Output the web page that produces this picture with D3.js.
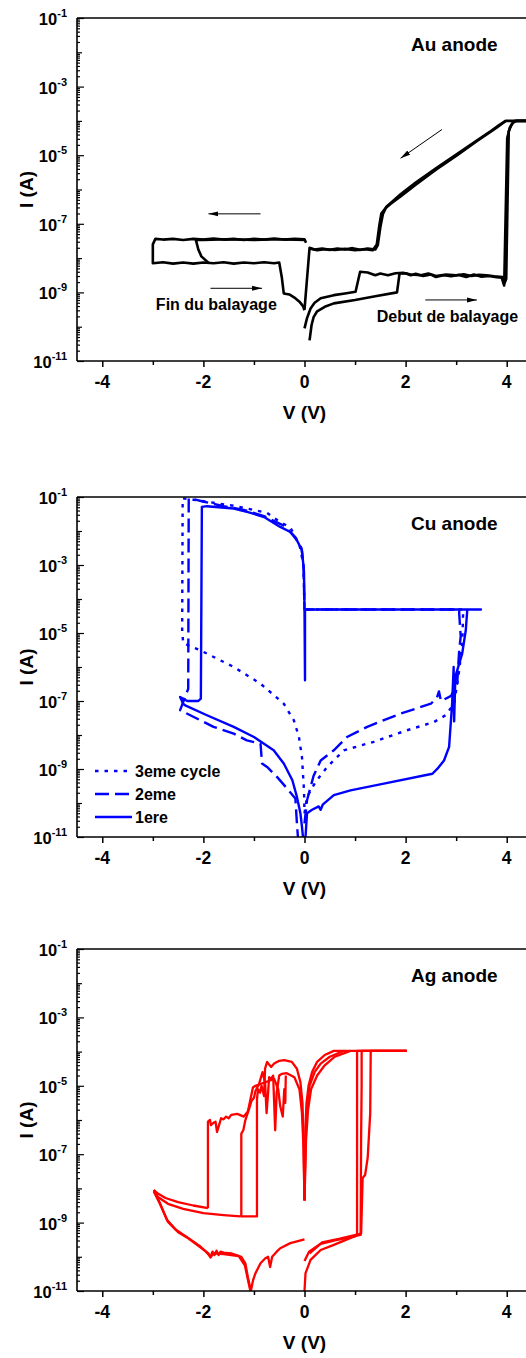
<!DOCTYPE html>
<html>
<head>
<meta charset="utf-8">
<script src="https://cdn.jsdelivr.net/npm/d3@7"></script>
<style>
  body { margin: 0; background: #fff; }
  text { font-family: Arial, "Liberation Sans", sans-serif; font-weight: bold; fill: #000; }
</style>
</head>
<body>
<svg id="chart" width="526" height="1358"></svg>
<script>
// values are [V (volts), log10 of I (A)]
var xTicks = [-4, -2, 0, 2, 4];
var xMinor = [-3, -1, 1, 3];
var yLabelExp = [-1, -3, -5, -7, -9, -11];

// ---- Au anode (black)
var auFwd1 = [[0.10,-10.40],[0.14,-9.95],[0.18,-9.72],[0.25,-9.55],[0.4,-9.42],[0.58,-9.32],[1.0,-9.22],[1.4,-9.11],[1.83,-9.0],[1.88,-8.45],[2.0,-8.44],[2.1,-8.5],[2.2,-8.46],[2.35,-8.52],[2.5,-8.48],[2.6,-8.55],[2.75,-8.5],[2.9,-8.53],[3.05,-8.49],[3.2,-8.55],[3.35,-8.48],[3.5,-8.54],[3.65,-8.52],[3.8,-8.56],[3.9,-8.57],[3.95,-8.8],[4.01,-4.5],[4.06,-4.2],[4.12,-4.05],[4.2,-4.0],[4.5,-4.0]];
var auFwd2 = [[0.0,-10.05],[0.05,-9.75],[0.12,-9.47],[0.2,-9.3],[0.32,-9.17],[0.58,-9.08],[0.8,-9.03],[1.01,-8.98],[1.1,-8.4],[1.25,-8.42],[1.4,-8.5],[1.5,-8.45],[1.65,-8.5],[1.8,-8.44],[1.95,-8.43],[2.1,-8.48],[2.3,-8.5],[2.45,-8.45],[2.6,-8.52],[2.8,-8.48],[3.0,-8.5],[3.15,-8.47],[3.3,-8.52],[3.45,-8.49],[3.6,-8.5],[3.75,-8.53],[3.92,-8.55],[3.96,-8.72],[3.99,-8.6],[4.04,-4.3],[4.1,-4.1],[4.16,-4.0],[4.5,-4.0]];
var auBack1 = [[4.5,-4.0],[3.98,-4.0],[3.85,-4.12],[3.7,-4.28],[3.4,-4.58],[3.0,-4.98],[2.6,-5.38],[2.2,-5.8],[1.9,-6.14],[1.7,-6.4],[1.62,-6.5],[1.55,-6.72],[1.5,-7.1],[1.45,-7.62],[1.4,-7.75],[1.25,-7.72],[1.1,-7.76],[0.95,-7.71],[0.8,-7.75],[0.65,-7.72],[0.5,-7.76],[0.35,-7.72],[0.2,-7.75],[0.1,-7.7],[0.0,-9.5]];
var auBack2 = [[3.98,-4.0],[3.8,-4.2],[3.4,-4.6],[3.0,-5.02],[2.6,-5.42],[2.2,-5.86],[1.9,-6.2],[1.7,-6.42],[1.6,-6.55],[1.52,-6.7],[1.48,-7.05],[1.43,-7.6],[1.35,-7.77],[1.2,-7.74],[1.0,-7.77],[0.8,-7.73],[0.6,-7.76],[0.4,-7.74],[0.25,-7.77],[0.12,-7.73]];
var auNeg1 = [[0.03,-7.55],[0.0,-7.45],[-0.2,-7.44],[-0.4,-7.46],[-0.6,-7.43],[-0.8,-7.46],[-1.0,-7.44],[-1.2,-7.47],[-1.4,-7.44],[-1.6,-7.46],[-1.8,-7.43],[-2.0,-7.46],[-2.2,-7.44],[-2.4,-7.47],[-2.6,-7.44],[-2.8,-7.46],[-2.95,-7.44],[-3.0,-7.6],[-3.0,-8.15],[-2.8,-8.12],[-2.6,-8.16],[-2.4,-8.13],[-2.2,-8.16],[-2.0,-8.13],[-1.8,-8.15],[-1.6,-8.12],[-1.4,-8.16],[-1.2,-8.13],[-1.0,-8.15],[-0.8,-8.12],[-0.6,-8.15],[-0.5,-8.13],[-0.45,-8.55],[-0.41,-9.03],[-0.3,-9.06],[-0.2,-9.15],[-0.1,-9.27],[-0.03,-9.4],[0.0,-9.52]];
var auNeg2 = [[0.0,-7.47],[-0.5,-7.45],[-1.0,-7.47],[-1.5,-7.45],[-2.0,-7.47],[-2.15,-7.46],[-2.1,-7.75],[-2.04,-7.95],[-1.89,-8.15]];
var auArrows = [[2.72,-4.25,1.9,-5.09],[-0.87,-6.71,-1.9,-6.71],[-1.86,-8.88,-0.84,-8.88],[2.39,-9.22,3.41,-9.22]];

// ---- Cu anode (blue), three cycles
var cu1 = [[0.02,-11.0],[0.05,-10.3],[0.15,-10.2],[0.28,-10.1],[0.32,-10.2],[0.36,-10.05],[0.58,-9.77],[0.91,-9.63],[1.57,-9.43],[2.53,-9.14],[2.63,-8.99],[2.76,-8.75],[2.86,-8.35],[2.92,-7.08],[2.95,-6.0],[2.96,-7.6],[2.98,-6.5],[3.0,-6.2],[3.12,-5.6],[3.19,-4.92],[3.22,-4.31],[3.49,-4.31],[0.01,-4.31],[0.01,-6.39],[0.0,-4.31],[-0.01,-3.2],[-0.05,-2.57],[-0.15,-2.27],[-0.28,-2.03],[-0.48,-1.88],[-0.8,-1.59],[-1.1,-1.45],[-1.4,-1.34],[-1.7,-1.3],[-1.93,-1.27],[-2.03,-1.29],[-2.05,-6.93],[-2.1,-7.0],[-2.32,-7.0],[-2.46,-6.88],[-2.4,-7.08],[-2.36,-7.13],[-1.93,-7.42],[-1.4,-7.76],[-1.0,-8.06],[-0.61,-8.45],[-0.41,-8.84],[-0.24,-9.33],[-0.15,-9.82],[-0.08,-10.31],[-0.05,-10.7],[-0.03,-11.0]];
var cu2 = [[0.0,-10.6],[0.05,-9.92],[0.18,-9.2],[0.32,-8.75],[0.58,-8.45],[0.84,-8.06],[1.24,-7.76],[1.9,-7.37],[2.5,-7.08],[2.62,-6.9],[2.66,-6.72],[2.7,-7.0],[2.9,-6.85],[3.02,-6.49],[3.06,-5.5],[3.09,-5.1],[3.06,-4.43],[3.06,-4.31],[0.0,-4.31],[-0.02,-3.0],[-0.06,-2.5],[-0.2,-2.15],[-0.4,-1.85],[-0.8,-1.56],[-1.2,-1.38],[-1.6,-1.27],[-1.99,-1.14],[-2.2,-1.06],[-2.29,-1.04],[-2.3,-6.64],[-2.46,-7.27],[-2.19,-7.47],[-1.8,-7.76],[-1.4,-7.96],[-1.14,-8.16],[-0.87,-8.25],[-0.84,-8.84],[-0.74,-8.94],[-0.54,-9.24],[-0.34,-9.58],[-0.18,-9.87],[-0.15,-10.6],[-0.13,-11.0]];
var cu3 = [[0.0,-10.3],[0.05,-9.82],[0.22,-9.38],[0.45,-8.94],[0.78,-8.45],[1.37,-8.2],[2.03,-7.86],[2.56,-7.62],[2.79,-7.42],[2.96,-7.08],[3.06,-6.1],[3.12,-5.31],[3.14,-4.31],[0.0,-4.31],[-0.02,-3.0],[-0.1,-2.4],[-0.28,-1.9],[-0.5,-1.72],[-0.74,-1.47],[-1.1,-1.35],[-1.4,-1.26],[-1.8,-1.17],[-2.2,-1.08],[-2.41,-1.04],[-2.42,-4.9],[-2.4,-5.3],[-2.06,-5.51],[-1.4,-6.0],[-0.87,-6.49],[-0.41,-7.08],[-0.21,-7.57],[-0.11,-8.06],[-0.05,-8.65],[-0.01,-9.63],[0.0,-10.3]];
var cuLegend = ['3eme cycle', '2eme', '1ere'];

// ---- Ag anode (red), several cycles
var agPos1 = [[0.0,-11.0],[0.02,-10.48],[0.12,-10.09],[0.32,-9.8],[0.58,-9.65],[1.01,-9.39],[1.11,-9.36],[1.12,-6.5],[1.13,-5.0],[1.13,-3.98],[2.02,-3.98]];
var agPos2 = [[0.0,-10.12],[0.09,-9.85],[0.32,-9.62],[0.6,-9.52],[1.0,-9.4],[1.04,-9.37],[1.04,-3.98],[2.02,-3.98]];
var agPos3 = [[0.1,-9.9],[0.35,-9.58],[0.7,-9.47],[1.12,-9.32],[1.15,-7.7],[1.2,-7.6],[1.25,-7.1],[1.3,-5.8],[1.31,-3.98],[2.02,-3.98]];
var agBack1 = [[2.02,-3.98],[0.58,-3.98],[0.4,-4.1],[0.25,-4.3],[0.15,-4.6],[0.08,-5.0],[0.04,-5.5],[0.02,-6.2],[0.0,-8.35]];
var agBack2 = [[0.78,-3.98],[0.5,-4.15],[0.32,-4.35],[0.2,-4.6],[0.1,-5.0],[0.05,-5.6],[0.02,-6.5],[0.0,-8.35]];
var agBack3 = [[0.91,-3.98],[0.6,-4.15],[0.4,-4.4],[0.25,-4.7],[0.13,-5.1],[0.07,-5.7],[0.03,-6.6],[0.0,-8.35]];
var agNegA = [[0.0,-8.35],[-0.02,-6.5],[-0.04,-5.5],[-0.08,-4.9],[-0.15,-4.5],[-0.25,-4.3],[-0.4,-4.25],[-0.5,-4.27],[-0.6,-4.35],[-0.66,-4.45],[-0.7,-4.38],[-0.74,-4.3],[-0.78,-4.5],[-0.8,-5.3],[-0.85,-5.0],[-0.88,-5.2],[-0.92,-5.1],[-0.94,-5.4],[-0.94,-8.82],[-1.27,-8.82]];
var agNegB = [[0.0,-8.35],[-0.02,-6.8],[-0.05,-5.8],[-0.1,-5.1],[-0.2,-4.75],[-0.35,-4.63],[-0.45,-4.65],[-0.5,-4.7],[-0.55,-5.2],[-0.58,-6.3],[-0.6,-5.5],[-0.62,-4.7],[-0.66,-4.8],[-0.7,-4.75],[-0.72,-5.2],[-0.75,-5.8],[-0.78,-4.9],[-0.83,-4.6],[-0.9,-4.95],[-0.97,-5.15],[-1.0,-5.35],[-1.05,-5.45],[-1.1,-5.7],[-1.17,-6.0],[-1.21,-6.3],[-1.25,-6.4],[-1.25,-8.82]];
var agNegC = [[-0.37,-4.7],[-0.38,-5.5],[-0.4,-5.1],[-0.43,-5.9],[-0.48,-5.6],[-0.52,-5.1],[-0.6,-4.8],[-0.97,-5.0],[-1.02,-5.05],[-1.07,-5.4],[-1.12,-5.75],[-1.2,-5.9],[-1.33,-5.82],[-1.45,-5.85],[-1.5,-5.95],[-1.55,-5.9],[-1.6,-5.98],[-1.65,-5.95],[-1.7,-6.2],[-1.73,-6.35],[-1.76,-6.05],[-1.8,-6.08],[-1.85,-6.15],[-1.87,-6.0],[-1.91,-6.05],[-1.91,-8.58]];
var agLow1 = [[-1.91,-8.58],[-2.2,-8.5],[-2.5,-8.4],[-2.75,-8.28],[-2.9,-8.15],[-2.98,-8.05]];
var agLow2 = [[-1.27,-8.82],[-1.6,-8.78],[-2.0,-8.72],[-2.4,-8.6],[-2.7,-8.45],[-2.9,-8.25],[-2.98,-8.05]];
var agRet1 = [[-2.98,-8.05],[-2.88,-8.36],[-2.72,-8.92],[-2.55,-9.2],[-2.39,-9.36],[-2.2,-9.55],[-2.06,-9.7],[-1.95,-9.85],[-1.86,-10.0],[-1.82,-9.85],[-1.78,-9.95],[-1.74,-9.82],[-1.7,-9.95],[-1.66,-9.85],[-1.6,-9.88],[-1.45,-9.9],[-1.35,-9.95],[-1.25,-10.0],[-1.17,-10.19],[-1.12,-10.6],[-1.06,-11.0],[-1.02,-10.7],[-0.97,-10.48],[-0.87,-10.19],[-0.78,-10.05],[-0.72,-10.0],[-0.68,-10.3],[-0.64,-10.0],[-0.55,-9.85],[-0.48,-9.75],[-0.28,-9.6],[0.0,-9.49]];
var agRet2 = [[-2.98,-8.1],[-2.86,-8.45],[-2.7,-8.98],[-2.5,-9.28],[-2.3,-9.46],[-2.1,-9.68],[-1.9,-9.9],[-1.86,-10.02],[-1.8,-9.9],[-1.6,-9.92],[-1.3,-9.98],[-1.18,-10.25],[-1.1,-10.8],[-1.07,-11.0]];

var svg = d3.select('#chart');
var x = d3.scaleLinear().domain([-4.5, 4.5]).range([77, 532]);

var defs = svg.append('defs');
defs.append('marker')
  .attr('id', 'arrow')
  .attr('markerUnits', 'userSpaceOnUse')
  .attr('markerWidth', 10).attr('markerHeight', 6)
  .attr('refX', 10).attr('refY', 3)
  .attr('orient', 'auto')
  .append('path').attr('d', 'M0,0.5L10,3L0,5.5Z').attr('fill', '#000');

var panels = [
  {top: 18, bottom: 361, title: 'Au anode', color: '#000', width: 2.6,
    series: [{d: auFwd1}, {d: auFwd2}, {d: auBack1}, {d: auBack2}, {d: auNeg1}, {d: auNeg2}]},
  {top: 497, bottom: 837, title: 'Cu anode', color: '#0000ff', width: 2.4,
    series: [{d: cu1}, {d: cu2, dash: '14,6'}, {d: cu3, dash: '3.5,6'}]},
  {top: 949, bottom: 1291, title: 'Ag anode', color: '#ff0000', width: 2.3,
    series: [{d: agPos1}, {d: agPos2}, {d: agPos3}, {d: agBack1}, {d: agBack2}, {d: agBack3},
      {d: agNegA}, {d: agNegB}, {d: agNegC}, {d: agLow1}, {d: agLow2}, {d: agRet1}, {d: agRet2}]}
];

panels.forEach(function (p, i) {
  var y = d3.scaleLog().domain([1e-11, 1e-1]).range([p.bottom, p.top]);
  var g = svg.append('g');
  var left = x.range()[0], right = x.range()[1];

  defs.append('clipPath').attr('id', 'clip' + i)
    .append('rect').attr('x', left).attr('y', p.top)
    .attr('width', right - left).attr('height', p.bottom - p.top);

  var line = d3.line()
    .x(function (d) { return x(d[0]); })
    .y(function (d) { return y(Math.pow(10, d[1])); });

  var plot = g.append('g').attr('clip-path', 'url(#clip' + i + ')');
  p.series.forEach(function (s) {
    plot.append('path')
      .datum(s.d)
      .attr('d', line)
      .attr('fill', 'none')
      .attr('stroke', p.color)
      .attr('stroke-width', p.width)
      .attr('stroke-linejoin', 'round')
      .attr('stroke-dasharray', s.dash || null);
  });

  // y ticks, pointing into the plot
  var decades = d3.range(-11, 0).map(function (e) { return Math.pow(10, e); });
  var minors = [];
  d3.range(-11, -1).forEach(function (e) {
    d3.range(2, 10).forEach(function (k) { minors.push(k * Math.pow(10, e)); });
  });
  var labelled = yLabelExp.map(function (e) { return Math.pow(10, e); });

  function yAxis(values, size) {
    var a = g.append('g').attr('transform', 'translate(' + left + ',0)')
      .call(d3.axisLeft(y).tickValues(values).tickSize(-size).tickSizeOuter(0).tickFormat(''));
    a.select('.domain').remove();
    a.selectAll('line').attr('stroke-width', 1.2);
  }
  yAxis(labelled, 7);
  yAxis(decades.filter(function (v) { return labelled.indexOf(v) < 0; }), 5);
  yAxis(minors, 3);

  // x ticks, pointing out
  function xAxis(values, size) {
    var a = g.append('g').attr('transform', 'translate(0,' + p.bottom + ')')
      .call(d3.axisBottom(x).tickValues(values).tickSize(size).tickSizeOuter(0).tickFormat(''));
    a.select('.domain').remove();
    a.selectAll('line').attr('stroke-width', 1.5);
  }
  xAxis(xTicks, 6);
  xAxis(xMinor, 4);

  // frame
  g.append('line').attr('x1', left).attr('x2', left).attr('y1', p.top).attr('y2', p.bottom)
    .attr('stroke', '#000').attr('stroke-width', 1.6);
  g.append('line').attr('x1', left).attr('x2', right).attr('y1', p.bottom).attr('y2', p.bottom)
    .attr('stroke', '#000').attr('stroke-width', 1.6);
  g.append('line').attr('x1', left).attr('x2', right).attr('y1', p.top).attr('y2', p.top)
    .attr('stroke', '#000').attr('stroke-width', 1.6);

  // tick labels
  yLabelExp.forEach(function (e) {
    var t = g.append('text')
      .attr('x', 67).attr('y', y(Math.pow(10, e)) + 7)
      .attr('text-anchor', 'end').attr('font-size', 16.5);
    t.append('tspan').text('10');
    t.append('tspan').attr('dy', -8).attr('font-size', 11).text(e);
  });
  xTicks.forEach(function (v) {
    g.append('text')
      .attr('x', x(v)).attr('y', p.bottom + 27)
      .attr('text-anchor', 'middle').attr('font-size', 17.5)
      .text(v);
  });

  // axis titles
  g.append('text')
    .attr('x', x(0)).attr('y', p.bottom + 58)
    .attr('text-anchor', 'middle').attr('font-size', 19)
    .text('V (V)');
  g.append('text')
    .attr('transform', 'translate(33,' + ((p.top + p.bottom) / 2) + ') rotate(-90)')
    .attr('text-anchor', 'middle').attr('font-size', 19)
    .text('I (A)');

  g.append('text')
    .attr('x', 411).attr('y', p.top + 33)
    .attr('font-size', 19)
    .text(p.title);

  if (i === 0) {
    auArrows.forEach(function (a) {
      g.append('line')
        .attr('x1', x(a[0])).attr('y1', y(Math.pow(10, a[1])))
        .attr('x2', x(a[2])).attr('y2', y(Math.pow(10, a[3])))
        .attr('stroke', '#000').attr('stroke-width', 1)
        .attr('marker-end', 'url(#arrow)');
    });
    g.append('text').attr('x', x(-2.94)).attr('y', y(Math.pow(10, -9.51)))
      .attr('font-size', 16).text('Fin du balayage');
    g.append('text').attr('x', x(1.43)).attr('y', y(Math.pow(10, -9.86)))
      .attr('font-size', 16).text('Debut de balayage');
  }

  if (i === 1) {
    var legDash = ['3.5,6', '14,6', null];
    cuLegend.forEach(function (label, k) {
      var ly = p.top + 274 + k * 23;
      g.append('line').attr('x1', 95).attr('x2', 132).attr('y1', ly).attr('y2', ly)
        .attr('stroke', p.color).attr('stroke-width', p.width)
        .attr('stroke-dasharray', legDash[k]);
      g.append('text').attr('x', 135).attr('y', ly + 6)
        .attr('font-size', 16).text(label);
    });
  }
});
</script>
</body>
</html>
